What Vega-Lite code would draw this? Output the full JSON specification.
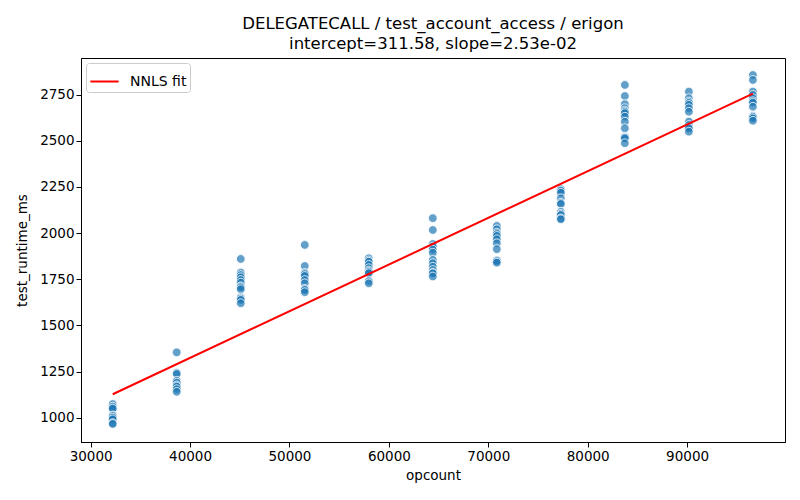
{
  "$schema": "https://vega.github.io/schema/vega-lite/v6.json",
  "width": 704,
  "height": 384,
  "autosize": {"type": "none"},
  "padding": {"left": 81, "top": 58, "right": 15, "bottom": 58},
  "background": "white",
  "title": {
    "text": ["DELEGATECALL / test_account_access / erigon", "intercept=311.58, slope=2.53e-02"],
    "font": "DejaVu Sans",
    "fontSize": 16.5,
    "fontWeight": "normal",
    "color": "black",
    "lineHeight": 20,
    "offset": 6,
    "anchor": "middle"
  },
  "config": {
    "view": {"stroke": "black", "strokeWidth": 1},
    "axis": {
      "labelFont": "DejaVu Sans",
      "labelFontSize": 13.5,
      "labelColor": "black",
      "titleFont": "DejaVu Sans",
      "titleFontSize": 13.5,
      "titleFontWeight": "normal",
      "titleColor": "black",
      "domainColor": "black",
      "tickColor": "black",
      "tickSize": 5,
      "grid": false
    }
  },
  "datasets": {
    "points": [
      {"opcount": 32220, "test_runtime_ms": 1074},
      {"opcount": 32220, "test_runtime_ms": 1060},
      {"opcount": 32220, "test_runtime_ms": 1047},
      {"opcount": 32220, "test_runtime_ms": 1050},
      {"opcount": 32220, "test_runtime_ms": 1012},
      {"opcount": 32220, "test_runtime_ms": 1009},
      {"opcount": 32220, "test_runtime_ms": 1000},
      {"opcount": 32220, "test_runtime_ms": 991},
      {"opcount": 32220, "test_runtime_ms": 970},
      {"opcount": 32220, "test_runtime_ms": 966},
      {"opcount": 38660, "test_runtime_ms": 1354},
      {"opcount": 38660, "test_runtime_ms": 1243},
      {"opcount": 38660, "test_runtime_ms": 1237},
      {"opcount": 38660, "test_runtime_ms": 1200},
      {"opcount": 38660, "test_runtime_ms": 1190},
      {"opcount": 38660, "test_runtime_ms": 1175},
      {"opcount": 38660, "test_runtime_ms": 1168},
      {"opcount": 38660, "test_runtime_ms": 1154},
      {"opcount": 38660, "test_runtime_ms": 1140},
      {"opcount": 45100, "test_runtime_ms": 1860},
      {"opcount": 45100, "test_runtime_ms": 1786},
      {"opcount": 45100, "test_runtime_ms": 1773},
      {"opcount": 45100, "test_runtime_ms": 1761},
      {"opcount": 45100, "test_runtime_ms": 1746},
      {"opcount": 45100, "test_runtime_ms": 1732},
      {"opcount": 45100, "test_runtime_ms": 1712},
      {"opcount": 45100, "test_runtime_ms": 1706},
      {"opcount": 45100, "test_runtime_ms": 1696},
      {"opcount": 45100, "test_runtime_ms": 1652},
      {"opcount": 45100, "test_runtime_ms": 1645},
      {"opcount": 45100, "test_runtime_ms": 1638},
      {"opcount": 45100, "test_runtime_ms": 1620},
      {"opcount": 51540, "test_runtime_ms": 1936},
      {"opcount": 51540, "test_runtime_ms": 1822},
      {"opcount": 51540, "test_runtime_ms": 1785},
      {"opcount": 51540, "test_runtime_ms": 1778},
      {"opcount": 51540, "test_runtime_ms": 1768},
      {"opcount": 51540, "test_runtime_ms": 1746},
      {"opcount": 51540, "test_runtime_ms": 1728},
      {"opcount": 51540, "test_runtime_ms": 1698},
      {"opcount": 51540, "test_runtime_ms": 1692},
      {"opcount": 51540, "test_runtime_ms": 1680},
      {"opcount": 57980, "test_runtime_ms": 1864},
      {"opcount": 57980, "test_runtime_ms": 1852},
      {"opcount": 57980, "test_runtime_ms": 1845},
      {"opcount": 57980, "test_runtime_ms": 1828},
      {"opcount": 57980, "test_runtime_ms": 1810},
      {"opcount": 57980, "test_runtime_ms": 1797},
      {"opcount": 57980, "test_runtime_ms": 1790},
      {"opcount": 57980, "test_runtime_ms": 1783},
      {"opcount": 57980, "test_runtime_ms": 1740},
      {"opcount": 57980, "test_runtime_ms": 1728},
      {"opcount": 64420, "test_runtime_ms": 2081},
      {"opcount": 64420, "test_runtime_ms": 2017},
      {"opcount": 64420, "test_runtime_ms": 1941},
      {"opcount": 64420, "test_runtime_ms": 1927},
      {"opcount": 64420, "test_runtime_ms": 1910},
      {"opcount": 64420, "test_runtime_ms": 1894},
      {"opcount": 64420, "test_runtime_ms": 1855},
      {"opcount": 64420, "test_runtime_ms": 1837},
      {"opcount": 64420, "test_runtime_ms": 1818},
      {"opcount": 64420, "test_runtime_ms": 1800},
      {"opcount": 64420, "test_runtime_ms": 1786},
      {"opcount": 64420, "test_runtime_ms": 1782},
      {"opcount": 64420, "test_runtime_ms": 1765},
      {"opcount": 70860, "test_runtime_ms": 2039},
      {"opcount": 70860, "test_runtime_ms": 2021},
      {"opcount": 70860, "test_runtime_ms": 2003},
      {"opcount": 70860, "test_runtime_ms": 1995},
      {"opcount": 70860, "test_runtime_ms": 1985},
      {"opcount": 70860, "test_runtime_ms": 1967},
      {"opcount": 70860, "test_runtime_ms": 1945},
      {"opcount": 70860, "test_runtime_ms": 1913},
      {"opcount": 70860, "test_runtime_ms": 1852},
      {"opcount": 70860, "test_runtime_ms": 1848},
      {"opcount": 70860, "test_runtime_ms": 1840},
      {"opcount": 77300, "test_runtime_ms": 2238},
      {"opcount": 77300, "test_runtime_ms": 2230},
      {"opcount": 77300, "test_runtime_ms": 2219},
      {"opcount": 77300, "test_runtime_ms": 2189},
      {"opcount": 77300, "test_runtime_ms": 2165},
      {"opcount": 77300, "test_runtime_ms": 2158},
      {"opcount": 77300, "test_runtime_ms": 2116},
      {"opcount": 77300, "test_runtime_ms": 2105},
      {"opcount": 77300, "test_runtime_ms": 2098},
      {"opcount": 77300, "test_runtime_ms": 2080},
      {"opcount": 77300, "test_runtime_ms": 2075},
      {"opcount": 83740, "test_runtime_ms": 2803},
      {"opcount": 83740, "test_runtime_ms": 2743},
      {"opcount": 83740, "test_runtime_ms": 2699},
      {"opcount": 83740, "test_runtime_ms": 2677},
      {"opcount": 83740, "test_runtime_ms": 2665},
      {"opcount": 83740, "test_runtime_ms": 2658},
      {"opcount": 83740, "test_runtime_ms": 2650},
      {"opcount": 83740, "test_runtime_ms": 2631},
      {"opcount": 83740, "test_runtime_ms": 2604},
      {"opcount": 83740, "test_runtime_ms": 2568},
      {"opcount": 83740, "test_runtime_ms": 2523},
      {"opcount": 83740, "test_runtime_ms": 2518},
      {"opcount": 83740, "test_runtime_ms": 2514},
      {"opcount": 83740, "test_runtime_ms": 2487},
      {"opcount": 90180, "test_runtime_ms": 2767},
      {"opcount": 90180, "test_runtime_ms": 2731},
      {"opcount": 90180, "test_runtime_ms": 2713},
      {"opcount": 90180, "test_runtime_ms": 2705},
      {"opcount": 90180, "test_runtime_ms": 2695},
      {"opcount": 90180, "test_runtime_ms": 2677},
      {"opcount": 90180, "test_runtime_ms": 2658},
      {"opcount": 90180, "test_runtime_ms": 2604},
      {"opcount": 90180, "test_runtime_ms": 2586},
      {"opcount": 90180, "test_runtime_ms": 2572},
      {"opcount": 90180, "test_runtime_ms": 2568},
      {"opcount": 90180, "test_runtime_ms": 2550},
      {"opcount": 96620, "test_runtime_ms": 2857},
      {"opcount": 96620, "test_runtime_ms": 2830},
      {"opcount": 96620, "test_runtime_ms": 2767},
      {"opcount": 96620, "test_runtime_ms": 2749},
      {"opcount": 96620, "test_runtime_ms": 2731},
      {"opcount": 96620, "test_runtime_ms": 2715},
      {"opcount": 96620, "test_runtime_ms": 2707},
      {"opcount": 96620, "test_runtime_ms": 2685},
      {"opcount": 96620, "test_runtime_ms": 2635},
      {"opcount": 96620, "test_runtime_ms": 2630},
      {"opcount": 96620, "test_runtime_ms": 2622},
      {"opcount": 96620, "test_runtime_ms": 2609}
    ],
    "fit": [
      {"opcount": 32220, "test_runtime_ms": 1126.7, "series": "NNLS fit"},
      {"opcount": 96620, "test_runtime_ms": 2756.1, "series": "NNLS fit"}
    ]
  },
  "layer": [
    {
      "data": {"name": "points"},
      "mark": {"type": "point", "filled": true, "shape": "circle", "size": 75, "color": "#1f77b4", "fillOpacity": 0.7, "stroke": "white", "strokeWidth": 0.8, "strokeOpacity": 1},
      "encoding": {
        "x": {
          "field": "opcount", "type": "quantitative",
          "scale": {"domain": [29030, 99850], "nice": false, "zero": false},
          "axis": {"values": [30000, 40000, 50000, 60000, 70000, 80000, 90000], "format": "d", "title": "opcount", "titlePadding": 6}
        },
        "y": {
          "field": "test_runtime_ms", "type": "quantitative",
          "scale": {"domain": [868, 2949], "nice": false, "zero": false},
          "axis": {"values": [1000, 1250, 1500, 1750, 2000, 2250, 2500, 2750], "format": "d", "title": "test_runtime_ms", "titlePadding": 10}
        }
      }
    },
    {
      "data": {"name": "fit"},
      "mark": {"type": "line", "strokeWidth": 2},
      "encoding": {
        "x": {"field": "opcount", "type": "quantitative"},
        "y": {"field": "test_runtime_ms", "type": "quantitative"},
        "color": {
          "field": "series", "type": "nominal",
          "scale": {"domain": ["NNLS fit"], "range": ["red"]},
          "legend": {
            "title": null,
            "orient": "top-left",
            "offset": 5,
            "padding": 3,
            "strokeColor": "#cccccc",
            "fillColor": "white",
            "cornerRadius": 3,
            "symbolType": "stroke",
            "symbolStrokeWidth": 2,
            "symbolSize": 800,
            "labelOffset": 10,
            "labelFont": "DejaVu Sans",
            "labelFontSize": 14,
            "labelColor": "black"
          }
        }
      }
    }
  ]
}
